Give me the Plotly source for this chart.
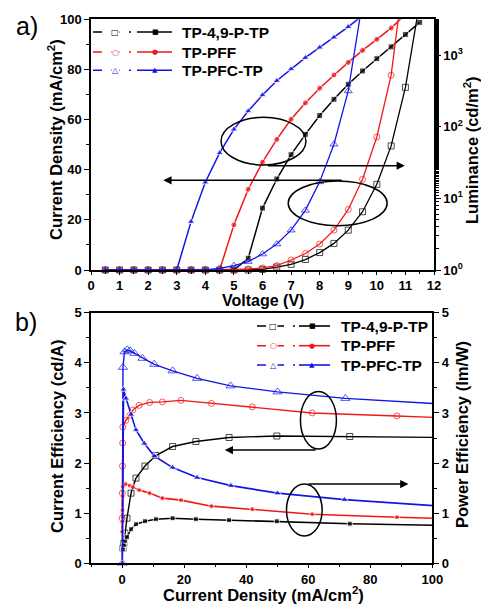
import plotly.graph_objects as go

# ---------------- Panel a data ----------------
V_black = [0.5, 1.0, 1.5, 2.0, 2.5, 3.0, 3.5, 4.0, 4.5, 5.0, 5.5, 6.0, 6.5, 7.0, 7.5, 8.0,
           8.5, 9.0, 9.5, 10.0, 10.5, 11.0, 11.5]
J_black = [0, 0, 0, 0, 0, 0, 0, 0, 0, 0, 4.7, 24.7, 36.3, 46.0, 54.1, 61.6, 68.1, 74.1,
           79.4, 84.3, 89.0, 93.9, 98.8]
L_black = [1, 1, 1, 1, 1, 1, 1, 1, 1, 1, 1, 1.02, 1.1, 1.2, 1.4, 1.75, 2.35, 3.6, 6.5,
           15.7, 54, 355, 5500]

V_red = [0.5, 1.0, 1.5, 2.0, 2.5, 3.0, 3.5, 4.0, 4.5, 5.0, 5.5, 6.0, 6.5, 7.0, 7.5, 8.0,
         8.5, 9.0, 9.5, 10.0, 10.5, 11.0]
J_red = [0, 0, 0, 0, 0, 0, 0, 0, 0, 18.0, 32.2, 43.0, 52.1, 60.1, 66.6, 72.5, 77.8, 82.8,
         87.6, 92.0, 96.5, 102]
L_red = [1, 1, 1, 1, 1, 1, 1, 1, 1, 1, 1.03, 1.07, 1.15, 1.38, 1.7, 2.3, 3.6, 7.0, 18.5,
         72, 525, 19000]

V_blue = [0.5, 1.0, 1.5, 2.0, 2.5, 3.0, 3.5, 4.0, 4.5, 5.0, 5.5, 6.0, 6.5, 7.0, 7.5, 8.0,
          8.5, 9.0, 9.5]
J_blue = [0, 0, 0, 0, 0, 0, 19.3, 35.0, 46.7, 56.1, 63.4, 69.8, 75.5, 80.2, 84.7, 88.8,
          92.8, 97.0, 101.5]
L_blue = [1, 1, 1, 1, 1, 1, 1, 1, 1.05, 1.15, 1.31, 1.67, 2.3, 3.6, 6.8, 17, 57, 316, 5600]

# ---------------- Panel b data ----------------
CD_black = [0.3, 0.6, 1.0, 1.6, 2.9, 4.5, 7.4, 10.9, 16.3, 23.8, 34.5, 49.9, 73.4, 105]
CE_black = [0.3, 0.4, 0.6, 0.9, 1.4, 1.7, 1.94, 2.15, 2.33, 2.43, 2.51, 2.54, 2.53, 2.51]
PE_black = [0.28, 0.37, 0.45, 0.52, 0.68, 0.78, 0.84, 0.88, 0.90, 0.88, 0.86, 0.84, 0.79, 0.755]

CD_red = [0.05, 0.1, 0.15, 0.2, 0.25, 1.2, 2.5, 3.5, 5.5, 8.9, 13.0, 19.0, 28.8, 42.0,
          61.3, 88.6, 105]
CE_red = [0.9, 1.4, 1.94, 2.40, 2.72, 2.85, 2.95, 3.06, 3.15, 3.21, 3.22, 3.25, 3.19, 3.12,
          3.00, 2.94, 2.90]
PE_red = [0.63, 0.83, 1.06, 1.34, 1.53, 1.58, 1.55, 1.52, 1.46, 1.40, 1.30, 1.26, 1.14, 1.08,
          0.98, 0.92, 0.89]

CD_blue_CE = [0.1, 0.3, 0.8, 1.7, 2.6, 4.0, 6.6, 10.4, 16.3, 24.2, 35.0, 50.1, 72.0, 105]
CE_blue = [0.0, 3.91, 4.22, 4.26, 4.24, 4.19, 4.09, 3.97, 3.84, 3.69, 3.54, 3.42, 3.29, 3.17]
CD_blue_PE = [0.1, 0.5, 1.3, 2.9, 4.5, 7.2, 10.4, 16.3, 24.2, 35.1, 50.1, 71.7, 105]
PE_blue = [0.0, 3.47, 3.29, 2.97, 2.66, 2.39, 2.14, 1.91, 1.71, 1.55, 1.40, 1.27, 1.13]

names = ["TP-4,9-P-TP", "TP-PFF", "TP-PFC-TP"]
colors = ["#000000", "#f01818", "#1414e6"]
open_sym = ["square-open", "circle-open", "triangle-up-open"]
fill_sym = ["square", "circle", "triangle-up"]
glyph_open = ["\u25a1", "\u25cb", "\u25b3"]
glyph_fill = ["\u25a0", "\u25cf", "\u25b2"]

W, H = 481, 604
FONT = "Liberation Sans, Arial, sans-serif"

XR_A = [0, 12]
YR_A = [0, 100]
YR_LOG = [0, 3.5]
XR_B = [-10, 100]
YR_B = [0, 5]


def sizes(xs, ys, xr, yr, s, log=False):
    out = []
    for x, y in zip(xs, ys):
        ok_y = (10 ** yr[0] <= y <= 10 ** yr[1]) if log else (yr[0] <= y <= yr[1])
        out.append(s if (xr[0] <= x <= xr[1] and ok_y) else 0)
    return out


fig = go.Figure()

# Panel a traces
for i, (V, J, L) in enumerate([(V_black, J_black, L_black), (V_red, J_red, L_red),
                               (V_blue, J_blue, L_blue)]):
    ms = 7 if i == 2 else 6
    fig.add_trace(go.Scatter(
        x=V, y=L, xaxis="x", yaxis="y2", mode="lines+markers", cliponaxis=False,
        line=dict(color=colors[i], width=1.3),
        marker=dict(symbol=open_sym[i], size=sizes(V, L, XR_A, YR_LOG, ms, log=True),
                    color=colors[i], line=dict(width=1)),
        showlegend=False))
    fig.add_trace(go.Scatter(
        x=V, y=J, xaxis="x", yaxis="y", mode="lines+markers", cliponaxis=False,
        line=dict(color=colors[i], width=1.5),
        marker=dict(symbol=fill_sym[i], size=sizes(V, J, XR_A, YR_A, ms), color=colors[i]),
        showlegend=False))

# Panel b traces
ce_sets = [(CD_black, CE_black), (CD_red, CE_red), (CD_blue_CE, CE_blue)]
pe_sets = [(CD_black, PE_black), (CD_red, PE_red), (CD_blue_PE, PE_blue)]
for i in range(3):
    ms = 8 if i == 2 else 6
    x, y = ce_sets[i]
    fig.add_trace(go.Scatter(
        x=x, y=y, xaxis="x2", yaxis="y3", mode="lines+markers", cliponaxis=False,
        line=dict(color=colors[i], width=1.4),
        marker=dict(symbol=open_sym[i], size=sizes(x, y, XR_B, YR_B, ms),
                    color=colors[i], line=dict(width=1)),
        showlegend=False))
    x, y = pe_sets[i]
    fig.add_trace(go.Scatter(
        x=x, y=y, xaxis="x2", yaxis="y4", mode="lines+markers", cliponaxis=False,
        line=dict(color=colors[i], width=1.6),
        marker=dict(symbol=fill_sym[i], size=sizes(x, y, XR_B, YR_B, ms - 1), color=colors[i]),
        showlegend=False))


def px(x):
    return x / W


def py(y):
    return 1 - y / H


tickfont = dict(family=FONT, size=13, color="black", weight="bold")
ax_common = dict(showgrid=False, zeroline=False, showline=True, linecolor="black",
                 linewidth=1.5, ticks="outside", ticklen=5, tickwidth=1.3,
                 tickcolor="black", tickfont=tickfont, automargin=False)
xa_common = {**ax_common, "ticklen": 3}
minor_y = dict(ticks="outside", ticklen=3, tickcolor="black", tickwidth=1)

fig.update_layout(
    width=W, height=H, margin=dict(l=0, r=0, t=0, b=0, pad=0, autoexpand=False),
    paper_bgcolor="white", plot_bgcolor="white", showlegend=False,
    xaxis=dict(domain=[px(91), px(434)], anchor="y", range=XR_A, dtick=1, tick0=0,
               minor=dict(dtick=0.5, tick0=0, ticks="outside", ticklen=2,
                          tickcolor="black", tickwidth=1),
               mirror=True, **xa_common),
    yaxis=dict(domain=[py(270), py(19.3)], anchor="x", range=YR_A, dtick=20,
               minor=dict(dtick=10, **minor_y), **ax_common),
    yaxis2=dict(overlaying="y", side="right", anchor="x", type="log", range=YR_LOG,
                tickvals=[1, 10, 100, 1000],
                ticktext=["10<sup>0</sup>", "10<sup>1</sup>", "10<sup>2</sup>", "10<sup>3</sup>"],
                minor=minor_y, **ax_common),
    xaxis2=dict(domain=[px(91), px(432.3)], anchor="y3", range=XR_B, dtick=20, tick0=0,
                minor=dict(dtick=10, tick0=0, ticks="outside", ticklen=2, tickcolor="black",
                           tickwidth=1),
                mirror=True, **xa_common),
    yaxis3=dict(domain=[py(563.3), py(312.7)], anchor="x2", range=YR_B, dtick=1,
                minor=dict(dtick=0.5, **minor_y), **ax_common),
    yaxis4=dict(overlaying="y3", side="right", anchor="x2", range=YR_B, dtick=1,
                minor=dict(dtick=0.5, **minor_y), **ax_common),
)

shapes = []
annotations = []

# ellipses
for (x0, x1, y0, y1) in [(4.55, 7.52, 41.9, 60.9), (6.9, 10.36, 17.7, 35.5)]:
    shapes.append(dict(type="circle", xref="x", yref="y", x0=x0, x1=x1, y0=y0, y1=y1,
                       line=dict(color="black", width=1.5)))
for (x0, x1, y0, y1) in [(57.5, 69.1, 2.28, 3.43), (53.0, 64.5, 0.545, 1.58)]:
    shapes.append(dict(type="circle", xref="x2", yref="y3", x0=x0, x1=x1, y0=y0, y1=y1,
                       line=dict(color="black", width=1.5)))

# arrows
for (xt, xh, yv, xr, yr) in [(6.14, 10.98, 41.6, "x", "y"), (8.82, 2.53, 35.8, "x", "y"),
                             (62.9, 33.1, 2.26, "x2", "y3"), (59.6, 92.3, 1.58, "x2", "y3")]:
    annotations.append(dict(x=xh, y=yv, ax=xt, ay=yv, xref=xr, yref=yr, axref=xr, ayref=yr,
                            text="", showarrow=True, arrowhead=2, arrowsize=1.1,
                            arrowwidth=1.5, arrowcolor="black"))


def note(x, y, text, font, xanchor="center", **kw):
    annotations.append(dict(x=px(x), y=py(y), xref="paper", yref="paper", text=text,
                            showarrow=False, xanchor=xanchor, yanchor="middle",
                            font=font, **kw))


# legends
def legend(rows_y, xa, xb, xc, xd, xmo, xmf, xt):
    for i, yy in enumerate(rows_y):
        shapes.append(dict(type="line", xref="paper", yref="paper", x0=px(xa), x1=px(xb),
                           y0=py(yy), y1=py(yy),
                           line=dict(color=colors[i], width=1.4, dash="dash")))
        shapes.append(dict(type="line", xref="paper", yref="paper", x0=px(xc), x1=px(xd),
                           y0=py(yy), y1=py(yy), line=dict(color=colors[i], width=1.6)))
        note(xmo, yy, glyph_open[i], dict(family="DejaVu Sans", size=8, color=colors[i]),
             bgcolor="white", borderpad=0)
        note(xmf, yy, glyph_fill[i], dict(family="DejaVu Sans", size=7, color=colors[i]))
        note(xt, yy, names[i], dict(family=FONT, size=15.5, color="black", weight="bold"),
             xanchor="left")


legend([32, 52, 70.3], 93, 131, 137, 172, 115, 155, 180)
legend([326, 345.7, 365], 257, 295, 299, 330, 273, 312, 339)

titlefont = dict(family=FONT, size=16.5, color="black", weight="bold")
note(55, 140, "Current Density (mA/cm<sup>2</sup>)", titlefont, textangle=-90)
note(471, 150, "Luminance (cd/m<sup>2</sup>)", titlefont, textangle=-90)
note(263, 300, "Voltage (V)", dict(family=FONT, size=16, color="black", weight="bold"))
note(57, 437, "Current Efficiency (cd/A)", titlefont, textangle=-90)
note(462, 435, "Power Efficiency (lm/W)", titlefont, textangle=-90)
note(263, 594, "Current Density (mA/cm<sup>2</sup>)", titlefont)

note(27, 26, "a)", dict(family=FONT, size=25, color="black"))
note(26, 322, "b)", dict(family=FONT, size=25, color="black"))

fig.update_layout(shapes=shapes, annotations=annotations)
fig.write_html("out.html", post_script="document.body.style.margin='0';",
               config={"displayModeBar": False})
